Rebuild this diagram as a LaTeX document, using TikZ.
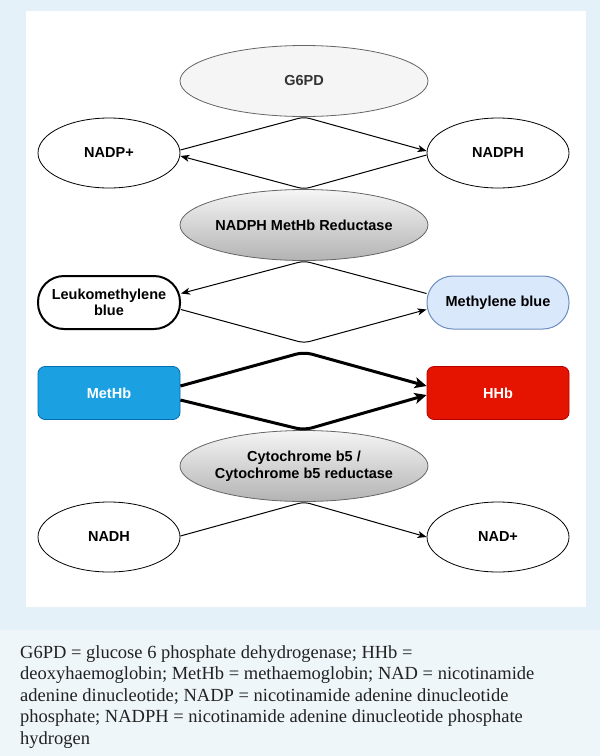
\documentclass[tikz,border=0pt]{standalone}
\usepackage{fontspec}
\setmainfont{Liberation Serif}
\setsansfont{Liberation Sans}
\usetikzlibrary{shapes.geometric,arrows.meta,calc}
\definecolor{bgtop}{HTML}{E4F1F8}
\definecolor{bgcap}{HTML}{EFF6FA}
\definecolor{lgray}{HTML}{F5F5F5}
\definecolor{dgray}{HTML}{B3B3B3}
\definecolor{sgray}{HTML}{666666}
\definecolor{mbfill}{HTML}{DAE8FC}
\definecolor{mbdraw}{HTML}{6C8EBF}
\definecolor{methfill}{HTML}{1BA1E2}
\definecolor{methdraw}{HTML}{006EAF}
\definecolor{hhbfill}{HTML}{E51400}
\definecolor{hhbdraw}{HTML}{B20000}
\definecolor{captext}{HTML}{222222}
\tikzset{
  lbl/.style={font=\sffamily\bfseries\fontsize{14.5}{16.5}\selectfont, align=center},
  bigell/.style={lbl, ellipse, minimum width=248pt, minimum height=71pt, inner xsep=-20pt, inner ysep=0pt, draw=sgray, line width=0.8pt},
  smallell/.style={lbl, ellipse, minimum width=142pt, minimum height=70pt, inner sep=0pt, draw=black, fill=white, line width=0.8pt},
  stadium/.style={lbl, rectangle, rounded corners=26pt, minimum width=142pt, minimum height=53pt, inner sep=0pt},
  box/.style={lbl, rectangle, rounded corners=7pt, minimum width=142pt, minimum height=53pt, inner sep=0pt, text=white, line width=0.8pt},
  edge/.style={draw=black, line width=1pt, rounded corners=6pt, -{Stealth[length=9pt,width=7pt,inset=2.5pt]}},
  thickedge/.style={draw=black, line width=3pt, rounded corners=8pt, -{Stealth[length=12pt,width=11pt,inset=3pt]}},
}
\begin{document}
\begin{tikzpicture}[x=1pt,y=-1pt]
\fill[bgtop] (0,0) rectangle (600,630);
\fill[bgcap] (0,630) rectangle (600,756);
\fill[white] (26,11) rectangle (586,607);
\useasboundingbox (0,0) rectangle (600,756);

\node[bigell, fill=lgray, text=black!80] (g6pd) at (304,81) {G6PD};
\node[smallell] (nadpp) at (109,153) {NADP+};
\node[smallell] (nadph) at (498,153) {NADPH};
\node[bigell, top color=lgray, bottom color=dgray] (red) at (304,225) {NADPH MetHb Reductase};
\node[stadium, draw=black, fill=white, line width=2pt] (leuko) at (109,302.5) {Leukomethylene\\blue};
\node[stadium, draw=mbdraw, fill=mbfill, line width=1pt] (mb) at (498,302.5) {Methylene blue};
\node[box, fill=methfill, draw=methdraw] (methb) at (109,393) {MetHb};
\node[box, fill=hhbfill, draw=hhbdraw] (hhb) at (498,393) {HHb};
\node[bigell, top color=lgray, bottom color=dgray] (cyt) at (304,466) {Cytochrome b5 /\\Cytochrome b5 reductase};
\node[smallell] (nadh) at (109,537) {NADH};
\node[smallell] (nadp) at (498,537) {NAD+};

\draw[edge] ($(nadpp.east)+(0,-3)$) -- (g6pd.south) -- ($(nadph.west)+(0,-2)$);
\draw[edge] ($(nadph.west)+(0,2)$) -- (red.north) -- ($(nadpp.east)+(0,3)$);
\draw[edge] ($(mb.west)+(0,-9)$) -- (red.south) -- ($(leuko.east)+(0,-9)$);
\draw[edge] ($(leuko.east)+(0,7)$) -- (304,343) -- ($(mb.west)+(0,7)$);
\coordinate (up) at (304,352);
\draw[thickedge] ($(methb.east)+(0,-7)$) -- (up) -- ($(hhb.west)+(0,-7)$);
\draw[thickedge] ($(methb.east)+(0,7)$) -- (cyt.north) -- ($(hhb.west)+(0,2)$);
\draw[edge] ($(nadh.east)+(0,-1)$) -- (cyt.south) -- ($(nadp.west)+(0,0)$);

\node[anchor=north west, align=left, text=captext, inner sep=0pt,
      font=\fontsize{18.5}{21.5}\selectfont] (cap) at (20,645)
  {G6PD = glucose 6 phosphate dehydrogenase; HHb =\\
   deoxyhaemoglobin; MetHb = methaemoglobin; NAD = nicotinamide\\
   adenine dinucleotide; NADP = nicotinamide adenine dinucleotide\\
   phosphate; NADPH = nicotinamide adenine dinucleotide phosphate\\
   hydrogen};
\end{tikzpicture}
\end{document}
